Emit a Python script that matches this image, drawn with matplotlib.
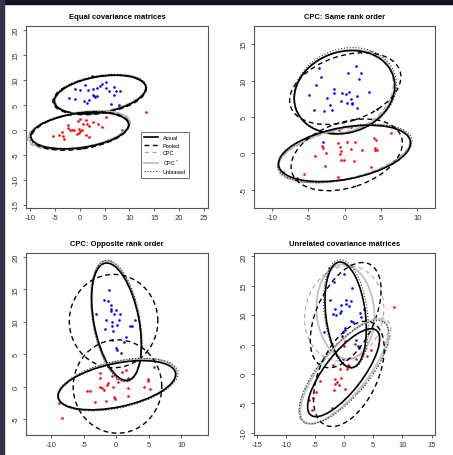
import numpy as np
import matplotlib
matplotlib.use("Agg")
import matplotlib.pyplot as plt
from matplotlib.patches import Ellipse, Rectangle
from matplotlib.lines import Line2D

plt.rcParams["font.family"] = ["Liberation Sans", "DejaVu Sans"]
plt.rcParams["axes.unicode_minus"] = False

# ---- data ----
titles = ["Equal covariance matrices", "CPC: Same rank order",
          "CPC: Opposite rank order", "Unrelated covariance matrices"]
methods = ["Actual", "Pooled", "CPC", "CPC$^*$", "Unbiased"]

# points (x, y)
p1_blue = [(2.54, 10.8), (12.0, 10.2), (-0.88, 8.2), (-0.03, 8.07), (1.6, 8.0), (1.07, 9.0),
           (3.48, 8.33), (4.08, 8.8), (4.49, 9.2), (5.29, 9.53), (5.22, 8.4), (5.83, 7.73),
           (6.97, 8.67), (7.3, 7.73), (8.1, 7.87), (6.83, 7.0), (-2.09, 6.33), (-0.88, 6.2),
           (0.93, 5.73), (1.93, 6.0), (2.6, 7.0), (2.8, 6.73), (3.14, 6.67), (3.48, 6.73),
           (1.4, 5.33), (6.3, 5.2), (7.84, 5.07), (7.97, 4.8), (-1.9, 3.2), (2.7, 8.2)]
p1_red = [(-5.3, -1.27), (-3.63, -0.33), (-3.43, -1.27), (-3.09, -1.8), (-2.29, 1.0),
          (-2.42, 0.33), (-1.95, 0.0), (-1.62, 0.07), (-1.15, 0.07), (-0.27, 1.87), (0.06, 2.2),
          (1.27, 2.07), (0.73, 1.2), (1.54, 1.2), (1.87, 0.87), (1.2, -1.0), (1.87, -1.33),
          (-0.14, 0.2), (0.06, -0.13), (0.4, 0.07), (-0.07, -0.67), (-0.48, -0.87), (2.6, 1.67),
          (3.6, 1.2), (4.42, 0.6), (5.29, 2.6), (8.44, -0.07), (13.34, 3.67), (-4.1, -1.0)]

p2_blue = [(3.59, 13.94), (1.53, 12.0), (-3.55, 11.74), (2.31, 11.1), (0.53, 11.05), (-3.18, 10.46),
           (1.99, 10.18), (-3.91, 9.45), (-1.49, 8.8), (-1.49, 8.35), (-4.87, 8.07), (-0.34, 8.3),
           (0.62, 8.44), (0.21, 8.12), (1.67, 7.94), (3.36, 8.39), (-2.45, 7.61), (0.89, 7.43),
           (0.98, 6.93), (-0.48, 7.16), (0.39, 6.93), (1.07, 6.79), (-1.99, 6.61), (-4.14, 5.96),
           (-2.81, 5.78), (-1.67, 6.0), (1.67, 6.24), (4.46, 6.15), (-2.59, 3.03), (-3.0, 1.56),
           (0.89, 3.62)]
p2_red = [(6.38, 2.8), (4.05, 2.16), (4.28, 1.79), (-0.71, 3.17), (-0.94, 1.42), (0.34, 1.56),
          (1.4, 1.56), (-3.13, 1.06), (-2.9, 0.78), (-0.57, 0.83), (-0.53, 0.37), (0.85, 0.55),
          (2.36, 0.41), (-0.57, -0.09), (-2.54, 0.05), (-4.05, -0.32), (4.23, 0.78), (4.5, 0.46),
          (4.14, 0.41), (-0.53, -0.87), (-0.11, -0.87), (1.35, -1.06), (-2.63, -1.74),
          (3.64, -1.88), (-5.51, -2.84), (-8.4, -2.6), (-6.57, -3.35), (-0.85, -3.3)]

p3_blue = [(-1.18, 14.83), (-1.9, 13.34), (-1.28, 13.13), (-0.87, 12.56), (-3.08, 11.22),
           (-0.87, 12.0), (-0.72, 11.63), (-0.41, 11.22), (0.0, 11.84), (0.62, 11.22),
           (-1.64, 10.29), (-0.62, 9.93), (0.41, 10.19), (2.92, 10.19), (-1.74, 8.89),
           (-0.67, 9.41), (0.05, 9.51), (2.05, 9.41), (2.46, 9.41), (-0.51, 8.64), (-0.62, 7.14),
           (1.54, 7.6), (1.18, 6.83), (-0.05, 5.95), (0.1, 5.64), (0.77, 5.18), (2.62, 4.09),
           (0.15, 1.3)]
p3_red = [(5.74, 2.95), (1.54, 2.54), (0.87, 2.28), (-0.62, 1.56), (-2.46, 2.08), (-2.56, 1.3),
          (1.79, 1.3), (4.82, 1.15), (4.87, 0.89), (-1.28, 0.47), (-1.38, 0.27), (0.31, 0.63),
          (-2.41, -0.04), (-2.15, -0.25), (-1.9, -0.56), (-0.51, -0.04), (4.2, -0.14),
          (5.18, -0.35), (-4.51, -0.76), (-4.0, -0.76), (1.74, -0.25), (-0.41, -1.69),
          (-0.15, -1.85), (1.79, -1.49), (-3.18, -2.42), (-1.54, -2.21), (-8.72, -2.57),
          (-8.31, -4.85)]

p4_blue = [(-2.61, 18.0), (-0.08, 17.04), (-1.75, 15.62), (1.29, 14.65), (-2.49, 12.6),
           (0.26, 12.66), (1.12, 12.37), (-0.48, 11.75), (0.37, 11.92), (0.78, 11.63),
           (-1.63, 11.06), (-1.92, 10.21), (-1.35, 10.1), (-0.66, 10.44), (-0.48, 10.67),
           (2.79, 10.32), (2.96, 9.76), (3.42, 11.06), (1.24, 9.07), (1.52, 8.9), (-3.47, 7.2),
           (0.09, 7.82), (0.2, 7.48), (-0.14, 7.08), (-0.37, 6.51), (2.1, 5.83), (2.38, 4.8),
           (2.5, 4.4), (-0.14, 2.53)]
p4_red = [(8.47, 11.35), (1.81, 5.09), (0.09, 5.66), (0.03, 4.69), (4.56, 4.06), (3.99, 3.1),
          (3.13, 3.67), (3.07, 3.38), (1.98, 2.53), (0.66, 1.56), (0.78, 1.39), (0.55, 0.82),
          (-0.77, 0.82), (-1.92, 1.56), (-1.63, -0.89), (-0.6, -0.72), (-1.29, -1.34),
          (-0.94, -1.97), (-1.58, -1.8), (-4.21, -1.29), (-4.79, -3.0), (-1.75, -2.71),
          (0.09, -2.6), (-5.3, -4.13), (-6.05, -4.47), (-2.09, -5.73), (-5.48, -6.12)]

# ellipses: (cx, cy, semi-major, semi-minor, angle deg), order = methods
p1_blue_ell = [(4.1, 7.1, 9.3, 3.6, 9.5), (4.0, 7.0, 9.5, 3.7, 9.0), (4.2, 7.2, 9.2, 3.5, 10.5),
               (4.1, 7.1, 9.4, 3.55, 10.0), (4.1, 7.15, 9.5, 3.75, 9.5)]
p1_red_ell = [(0.0, -0.1, 9.9, 3.45, 7.5), (0.1, -0.2, 9.9, 3.6, 8.5), (-0.2, -0.1, 10.5, 3.4, 10.0),
              (-0.1, 0.0, 10.3, 3.5, 9.5), (0.0, -0.1, 10.1, 3.6, 8.0)]
p2_blue_ell = [(0.0, 8.4, 7.05, 5.55, 19), (0.1, 8.9, 7.9, 4.5, 18), (-0.1, 8.5, 7.0, 5.4, 22),
               (0.0, 8.5, 7.1, 5.5, 22), (0.1, 8.6, 7.2, 5.75, 20)]
p2_red_ell = [(0.0, 0.0, 9.2, 3.55, 10.5), (0.3, -0.2, 7.9, 4.5, 18), (-0.1, -0.1, 9.3, 3.4, 13),
              (0.0, -0.05, 9.25, 3.5, 12.5), (0.05, 0.0, 9.4, 3.6, 12)]
p3_blue_ell = [(0.05, 10.0, 9.2, 3.45, 101), (-0.4, 10.1, 7.2, 6.8, 90), (0.0, 10.1, 9.5, 3.5, 100),
               (0.0, 10.1, 9.4, 3.55, 100.5), (0.05, 10.1, 9.5, 3.6, 100)]
p3_red_ell = [(0.1, 0.2, 9.2, 3.35, 12), (0.2, 0.0, 7.2, 6.8, 90), (0.2, 0.3, 9.3, 3.5, 13),
              (0.2, 0.3, 9.25, 3.45, 13), (0.25, 0.3, 9.45, 3.6, 12.5)]
p4_blue_ell = [(0.25, 10.05, 9.05, 3.4, 97), (0.25, 10.0, 9.6, 5.0, 65), (0.0, 10.3, 8.2, 6.7, 75),
               (0.2, 10.6, 8.05, 4.95, 95), (0.3, 10.2, 9.3, 3.7, 97)]
p4_red_ell = [(-0.1, 0.2, 9.15, 3.25, 52), (0.8, 0.0, 9.6, 5.0, 65), (0.1, 0.5, 11.3, 4.1, 50),
              (0.0, 0.4, 11.0, 3.9, 51), (0.0, 0.3, 10.9, 4.2, 50)]

xlims = [(-10.8, 25.8), (-12.43, 12.43), (-13.85, 14.1), (-15.5, 15.6)]
ylims = [(-15.6, 20.8), (-7.5, 17.5), (-7.48, 20.6), (-10.4, 20.58)]
xticks = [np.arange(-10, 26, 5), np.arange(-10, 11, 5), np.arange(-10, 11, 5), np.arange(-15, 16, 5)]
yticks = [np.arange(-15, 21, 5), np.arange(-5, 16, 5), np.arange(-5, 21, 5), np.arange(-10, 21, 5)]

points = [(p1_blue, p1_red), (p2_blue, p2_red), (p3_blue, p3_red), (p4_blue, p4_red)]
ells = [(p1_blue_ell, p1_red_ell), (p2_blue_ell, p2_red_ell),
        (p3_blue_ell, p3_red_ell), (p4_blue_ell, p4_red_ell)]

# line style per method
styles = [dict(color="black", lw=1.2, ls="-"),
          dict(color="black", lw=1.0, ls=(0, (3.5, 2.5))),
          dict(color="#a8a8a8", lw=0.8, ls=(0, (4, 3))),
          dict(color="#c0c0c0", lw=1.3, ls="-"),
          dict(color="#222222", lw=0.75, ls=(0, (1, 1.8)))]

W, H = 453, 456
fig = plt.figure(figsize=(W / 100, H / 100), dpi=100)
# axes boxes in pixels: left, top, right, bottom
boxes = [(26, 27, 208, 209), (254, 27, 435, 209), (26, 254, 208, 436), (254, 254, 435, 436)]

for i in range(4):
    l, t, r, b = boxes[i]
    ax = fig.add_axes([l / W, 1 - b / H, (r - l) / W, (b - t) / H])
    blue, red = points[i]
    ax.scatter([p[0] for p in blue], [p[1] for p in blue], s=3.5, color="#0000ff", lw=0, zorder=2)
    ax.scatter([p[0] for p in red], [p[1] for p in red], s=3.5, color="#ff0000", lw=0, zorder=2)
    for grp in ells[i]:
        # grey ones first so the black stay on top
        for k in [3, 2, 4, 1, 0]:
            cx, cy, a, bb, ang = grp[k]
            ax.add_patch(Ellipse((cx, cy), 2 * a, 2 * bb, angle=ang, fill=False,
                                 edgecolor=styles[k]["color"], lw=styles[k]["lw"],
                                 ls=styles[k]["ls"], zorder=3))
    ax.set_xlim(*xlims[i])
    ax.set_ylim(*ylims[i])
    ax.set_xticks(xticks[i])
    ax.set_yticks(yticks[i])
    ax.tick_params(direction="out", length=2.5, width=0.6, colors="#444444",
                   labelsize=5.5, labelcolor="#333333", pad=2)
    for lab in ax.get_yticklabels():
        lab.set_rotation(90)
        lab.set_va("center")
    for sp in ax.spines.values():
        sp.set_color("#555555")
        sp.set_linewidth(0.8)
    ax.set_title(titles[i], fontsize=5.5, fontweight="bold", pad=6)
    if i == 0:
        handles = [Line2D([], [], **styles[k]) for k in range(5)]
        ax.legend(handles, methods, loc="upper left", bbox_to_anchor=(11.7, 0.2),
                  bbox_transform=ax.transData, fontsize=4, frameon=True, fancybox=False,
                  edgecolor="#555555", framealpha=1, handlelength=2.6, borderpad=0.6,
                  labelspacing=0.45, handletextpad=0.8).get_frame().set_linewidth(0.6)

# dark screenshot border on top and left
fig.add_artist(Rectangle((0, 1 - 5 / H), 1, 5 / H, transform=fig.transFigure,
                         color="#11131f", zorder=10))
fig.add_artist(Rectangle((0, 0), 4 / W, 1, transform=fig.transFigure,
                         color="#33344a", zorder=10))

fig.savefig("out.png", dpi=100)
